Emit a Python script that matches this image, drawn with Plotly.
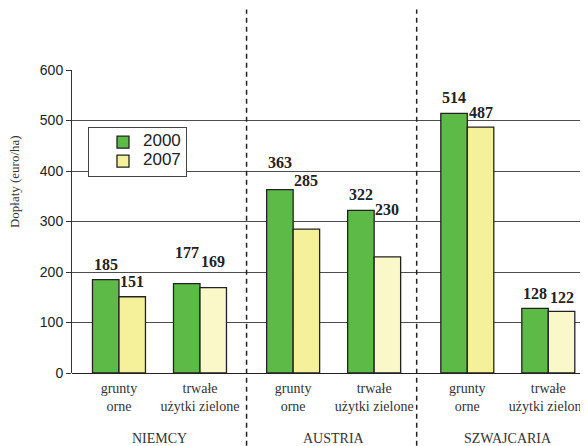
import plotly.graph_objects as go

# ---- data ----
groups = ["NIEMCY", "AUSTRIA", "SZWAJCARIA"]
crops = ["grunty<br>orne", "trwałe<br>użytki zielone"]
years = ["2000", "2007"]
values_2000 = [185, 177, 363, 322, 514, 128]
values_2007 = [151, 169, 285, 230, 487, 122]
y_ticks = [0, 100, 200, 300, 400, 500, 600]

# ---- layout constants (style / positioning) ----
GROUP_GAP = 0.15
BARGAP = 0.346
label_shift_2000 = [15, 31, 27, 16, 16, 15]
label_shift_2007 = [15, 26, 49, 47, 15, 14]
green = "#5dba46"
yellow_a = "#f5f09a"
yellow_b = "#faf7c9"
SERIF = "Liberation Serif, Times New Roman, serif"
SANS = "Liberation Sans, Arial, sans-serif"

n_cat = len(crops)
xpos = []
tick_text = []
for g in range(len(groups)):
    for c in range(n_cat):
        xpos.append(g * n_cat + c + g * GROUP_GAP)
        tick_text.append(crops[c])
colors_2007 = [yellow_a if i % n_cat == 0 else yellow_b for i in range(len(xpos))]

def legend_name(s):
    return f'<span style="font-size:17px">{s}</span>'

fig = go.Figure()
fig.add_trace(go.Bar(x=xpos, y=values_2000, name=legend_name(years[0]),
                     marker=dict(color=green, line=dict(color="#222222", width=1.3))))
fig.add_trace(go.Bar(x=xpos, y=values_2007, name=legend_name(years[1]),
                     marker=dict(color=colors_2007, line=dict(color="#222222", width=1.3))))

half = (1 - BARGAP) / 4
ann = []
for i, x in enumerate(xpos):
    ann.append(dict(x=x - half, y=values_2000[i], text=f"<b>{values_2000[i]}</b>",
                    showarrow=False, yanchor="middle", yshift=label_shift_2000[i],
                    font=dict(family=SERIF, size=16, color="#222222")))
    ann.append(dict(x=x + half, y=values_2007[i], text=f"<b>{values_2007[i]}</b>",
                    showarrow=False, yanchor="middle", yshift=label_shift_2007[i],
                    font=dict(family=SERIF, size=16, color="#222222")))

# group labels
for g, name in enumerate(groups):
    gx = sum(xpos[g * n_cat:(g + 1) * n_cat]) / n_cat
    ann.append(dict(x=gx, y=0, yref="paper", text=name, showarrow=False,
                    yanchor="middle", yshift=-65,
                    font=dict(family=SERIF, size=14, color="#333333")))

# y-axis title
ann.append(dict(x=0, xref="paper", y=0.63, yref="paper", text="Dopłaty (euro/ha)",
                textangle=-90, showarrow=False, xanchor="center", xshift=-58,
                font=dict(family=SERIF, size=13, color="#333333")))

fig.update_layout(annotations=ann)

# dashed dividers between groups
shapes = []
for g in range(len(groups) - 1):
    right_of = xpos[(g + 1) * n_cat - 1]
    left_of = xpos[(g + 1) * n_cat]
    dx = (right_of + left_of) / 2 - 0.05 * g
    shapes.append(dict(type="line", xref="x", yref="paper", x0=dx, x1=dx,
                       y0=-0.27, y1=1.2,
                       line=dict(color="#222222", width=1.5, dash="5px,4px")))
fig.update_layout(shapes=shapes)

fig.update_layout(
    width=580, height=438,
    margin=dict(l=64, r=0, t=62, b=73),
    paper_bgcolor="white", plot_bgcolor="white",
    barmode="group", bargap=BARGAP, bargroupgap=0,
    showlegend=True,
    legend=dict(x=0.031, y=0.813, xanchor="left", yanchor="top",
                bgcolor="white", bordercolor="#444444", borderwidth=1,
                font=dict(family=SANS, size=10, color="#222222"),
                indentation=14, tracegroupgap=0, entrywidth=75),
    xaxis=dict(range=[-0.58, 5.79], tickvals=xpos, ticktext=tick_text,
               showgrid=False, zeroline=False, showline=False, ticks="",
               ticklabelstandoff=5,
               tickfont=dict(family=SERIF, size=14, color="#333333")),
    yaxis=dict(range=[0, 600], tickvals=y_ticks, showgrid=True,
               gridcolor="#4d4d4d", gridwidth=1,
               zeroline=True, zerolinecolor="#222222", zerolinewidth=1.3,
               showline=True, linecolor="#333333", linewidth=1,
               ticks="outside", ticklen=5, tickcolor="#333333",
               tickfont=dict(family=SANS, size=14, color="#222222")),
)

fig.write_html("out.html")
